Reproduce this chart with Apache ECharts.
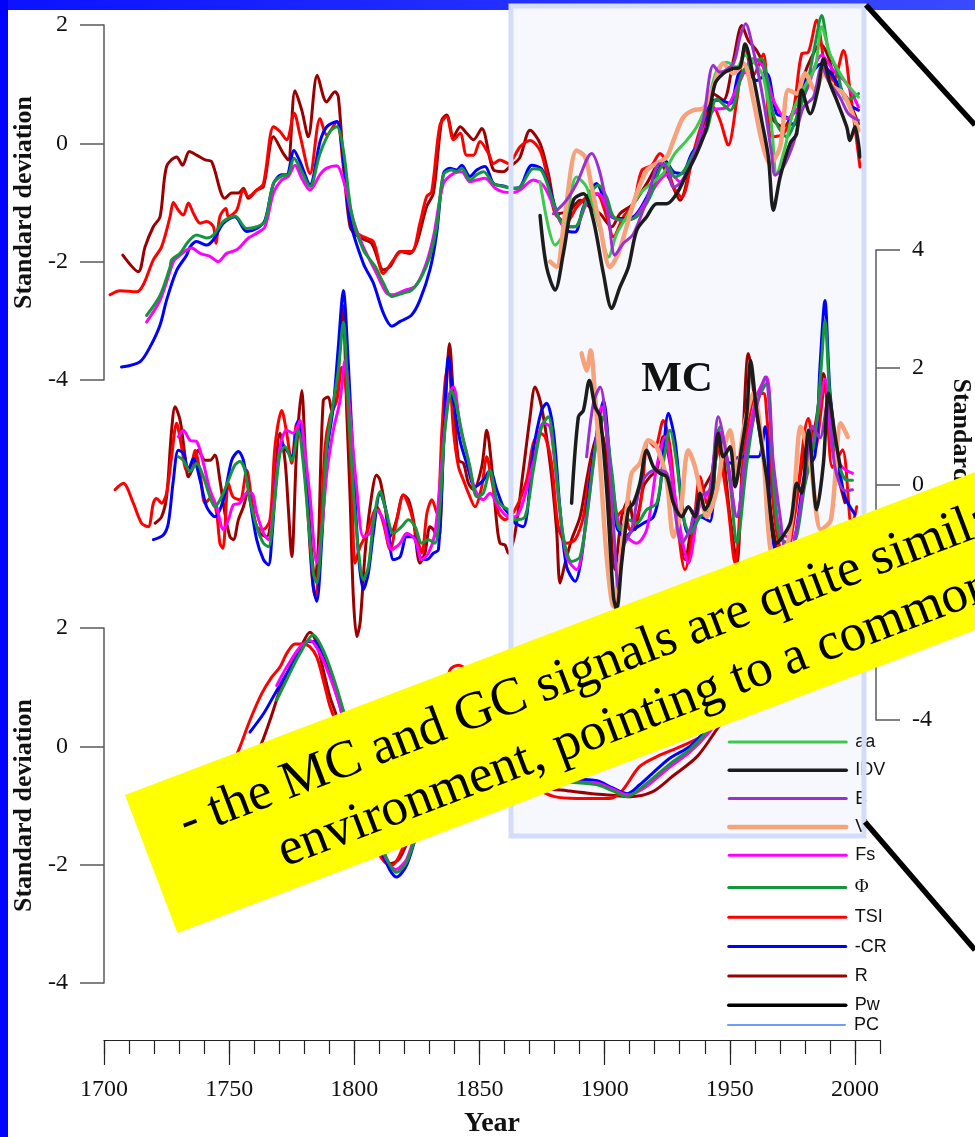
<!DOCTYPE html>
<html>
<head>
<meta charset="utf-8">
<script src="https://cdn.jsdelivr.net/npm/echarts@6/dist/echarts.min.js"></script>
<style>
html,body{margin:0;padding:0;background:#fff;}
#chart{width:975px;height:1137px;}
</style>
</head>
<body>
<div id="chart"></div>
<script>
// ---------- Data: [year, standardised value] ----------
// Upper panel
const topR = [[1707.5,-1.89],[1713.7,-2.17],[1716.4,-1.75],[1719.7,-1.41],[1722.4,-1.24],[1725,-0.39],[1729,-0.23],[1731.4,-0.37],[1734.1,-0.14],[1737,-0.2],[1740.4,-0.28],[1743,-0.31],[1748.3,-0.93],[1751,-0.84],[1753.7,-0.84],[1755.7,-0.76],[1757.7,-0.93],[1761,-0.79],[1763.7,-0.73],[1767.7,0.11],[1771.6,-0.17],[1773.6,-0.28],[1776.3,0.89],[1779,0.56],[1781.6,0.11],[1785.2,1.15],[1788.9,0.7],[1792.3,0.87],[1793.6,0.79],[1795.6,-0.28],[1798.3,-1.41],[1801.6,-1.58],[1806.9,-1.69],[1811.6,-2.14],[1814.3,-2.08],[1818.3,-1.83],[1822.3,-1.86],[1824.9,-1.69],[1828.9,-1.07],[1831.6,-0.84],[1834.9,0.39],[1836.9,0.48],[1839.6,0.11],[1842.3,0.28],[1844.9,0.17],[1847.6,0.06],[1850.9,0.25],[1855.6,-0.45],[1859.5,-0.48],[1862.2,-0.39],[1866,-0.25],[1870.2,0.22],[1874.2,0.0],[1877.5,-0.51],[1881.5,-1.19],[1886.2,-1.13],[1890.2,-0.96],[1894.2,-1.08],[1898.2,-1.19],[1902.8,-1.41],[1906.1,-1.19],[1911.5,-1.02],[1916.8,-0.68],[1922.1,-0.34],[1926.1,-0.62],[1930.1,-0.96],[1934.8,-0.29],[1939.4,0.28],[1943.4,0.84],[1947.4,0.73],[1951.4,1.4],[1954.8,1.99],[1957.4,1.74],[1960.7,1.57],[1963.4,1.32],[1966.7,0.44],[1971.4,0.28],[1975.4,0.56],[1979.4,1.12],[1982.7,1.46],[1986.1,1.68],[1989.4,1.46],[1992.7,0.95],[1996.7,0.78],[2001.4,0.33]];
const topTSI = [[1702.4,-2.56],[1706.4,-2.49],[1713,-2.51],[1715.7,-2.39],[1719.7,-1.97],[1723,-1.75],[1726.4,-1.24],[1727.7,-1.0],[1729.7,-1.13],[1731.7,-1.21],[1733.7,-1.01],[1735.7,-1.18],[1738.4,-1.35],[1741,-1.32],[1743.7,-1.41],[1744.7,-1.69],[1746.3,-1.24],[1748.7,-1.1],[1749.7,-1.24],[1753,-1.13],[1755.7,-0.79],[1757.7,-0.9],[1761,-0.79],[1763.7,-0.68],[1767.7,0.28],[1770.3,0.2],[1773,0.06],[1776,0.51],[1778.3,0.14],[1782.3,-0.51],[1786.3,0.42],[1789,0.14],[1793,0.37],[1795.6,-0.39],[1799.6,-1.46],[1803.6,-1.58],[1807.6,-1.66],[1811.6,-2.2],[1815.6,-1.97],[1818.9,-1.83],[1822.9,-1.83],[1826.2,-1.35],[1828.9,-0.9],[1830.9,-0.82],[1834.2,0.31],[1836.9,0.45],[1839.6,0.06],[1842.3,0.17],[1844.9,-0.2],[1847.6,-0.2],[1850.2,0.03],[1853.6,-0.17],[1855.6,-0.34],[1858.2,-0.28],[1861.5,-0.34],[1866.2,-0.06],[1870.2,0.05],[1874.2,-0.12],[1876.8,-0.51],[1880.2,-1.19],[1884.8,-1.33],[1888.8,-1.08],[1892.8,-0.91],[1896.8,-0.85],[1900.8,-1.24],[1903.5,-1.58],[1907.5,-1.24],[1911.5,-1.02],[1914.8,-0.46],[1918.8,-0.37],[1922.1,-0.17],[1924.8,-0.34],[1927.5,-0.74],[1930.8,-0.91],[1935.4,-0.17],[1939.4,0.39],[1943.4,0.61],[1946.1,0.39],[1949.4,-0.03],[1952.8,0.73],[1956.1,1.63],[1959.4,1.15],[1963.4,1.51],[1966.7,0.11],[1971.4,0.16],[1975.4,0.56],[1978.7,1.51],[1981.4,1.54],[1984.7,2.08],[1988.1,1.29],[1991.4,1.06],[1995.4,1.57],[1998,0.9],[2002,-0.4]];
const topCR = [[1707,-3.78],[1714.4,-3.69],[1718.4,-3.44],[1722.4,-3.07],[1725,-2.65],[1729,-2.15],[1733,-1.89],[1734.4,-1.75],[1737,-1.66],[1741,-1.72],[1743.7,-1.63],[1747.7,-1.35],[1752.3,-1.24],[1757,-1.49],[1761,-1.44],[1764.3,-1.3],[1767.7,-0.68],[1771,-0.53],[1773,-0.53],[1775.9,-0.12],[1778.3,-0.31],[1782.3,-0.7],[1786.3,0.03],[1789,0.28],[1793,0.37],[1795,-0.06],[1798.3,-1.3],[1803.6,-2.03],[1807.6,-2.36],[1811.6,-2.87],[1815,-3.09],[1818.3,-3.01],[1822.9,-2.9],[1826.2,-2.65],[1830.2,-2.14],[1832.9,-1.52],[1835.6,-0.51],[1838.2,-0.42],[1840.9,-0.45],[1842.9,-0.37],[1846.2,-0.56],[1848.9,-0.45],[1852.2,-0.39],[1855.6,-0.68],[1859.5,-0.72],[1863.5,-0.76],[1866.2,-0.74],[1870.9,-0.37],[1874.8,-0.43],[1878.2,-0.79],[1881.5,-1.24],[1884.8,-1.47],[1888.2,-1.5],[1891.5,-1.08],[1896.8,-0.68],[1899.5,-0.91],[1902.8,-1.24],[1906.1,-1.27],[1911.5,-1.24],[1916.8,-0.91],[1920.8,-0.51],[1924.1,-0.29],[1927.5,-0.48],[1930.8,-0.51],[1934.8,-0.17],[1939.4,0.11],[1943.4,0.73],[1946.1,0.73],[1950.1,0.67],[1954.1,1.2],[1956.7,1.2],[1960.7,1.06],[1964.7,1.18],[1968.7,0.5],[1972.7,0.44],[1975.4,0.3],[1979.4,1.01],[1983.4,1.23],[1986.7,1.35],[1990,1.2],[1994,0.95],[1997.4,0.67],[2001.4,0.56]];
const topFs = [[1717,-3.02],[1722.4,-2.65],[1727.7,-2.0],[1729,-1.94],[1735,-1.77],[1738.4,-1.86],[1742.3,-1.91],[1745.6,-2.0],[1749,-1.86],[1753,-1.8],[1757.7,-1.6],[1761,-1.52],[1764.3,-1.41],[1767.7,-0.84],[1771,-0.62],[1773.6,-0.56],[1776.3,-0.37],[1779,-0.59],[1782.3,-0.79],[1786.3,-0.53],[1789,-0.42],[1793,-0.38],[1795.6,-0.62],[1799.6,-1.3],[1803.6,-1.75],[1808.9,-2.2],[1812.9,-2.53],[1815.6,-2.56],[1820.3,-2.48],[1824.3,-2.42],[1828.3,-2.08],[1831.6,-1.58],[1835.6,-0.68],[1839.6,-0.51],[1842.9,-0.48],[1846.2,-0.65],[1848.9,-0.62],[1852.2,-0.59],[1856.3,-0.76],[1859.5,-0.82],[1863.5,-0.83],[1866.2,-0.79],[1871.5,-0.62],[1875.5,-0.71],[1879.5,-1.05],[1883.5,-1.39],[1888.2,-1.41],[1892.8,-1.02],[1897.5,-0.85],[1902.1,-1.19],[1906.1,-1.3],[1911.5,-1.27],[1916.8,-0.96],[1922.1,-0.62],[1926.1,-0.51],[1930.1,-0.65],[1934.1,-0.34],[1938.1,0.05],[1943.4,0.56],[1948.8,0.61],[1954.1,1.06],[1959.4,1.43],[1963.4,1.29],[1967.4,0.73],[1972.7,0.42],[1976.7,0.56],[1980.7,0.9],[1986.7,1.49],[1991.4,1.23],[1996.7,1.01],[2001.4,0.61]];
const topPhi = [[1717,-2.91],[1722.4,-2.57],[1726.4,-2.09],[1727,-1.97],[1730.4,-1.86],[1733.7,-1.66],[1737,-1.55],[1741,-1.6],[1743.7,-1.55],[1747.7,-1.32],[1752.3,-1.23],[1757,-1.44],[1761,-1.41],[1764.3,-1.32],[1767.7,-0.68],[1771,-0.55],[1773.6,-0.53],[1775.9,-0.25],[1779,-0.48],[1782.3,-0.73],[1786.3,-0.17],[1790.3,0.2],[1793,0.28],[1795.6,-0.11],[1798.9,-1.18],[1803.6,-1.8],[1808.3,-2.08],[1811.6,-2.36],[1815,-2.59],[1819.6,-2.53],[1822.9,-2.48],[1826.9,-2.25],[1830.2,-1.91],[1832.9,-1.41],[1835.6,-0.53],[1838.9,-0.45],[1840.9,-0.48],[1842.9,-0.42],[1846.2,-0.62],[1848.9,-0.53],[1851.6,-0.48],[1855.6,-0.68],[1859.5,-0.73],[1863.5,-0.76],[1866.2,-0.74],[1871.5,-0.43],[1874.8,-0.46],[1878.8,-0.91],[1882.2,-1.3],[1885.5,-1.41],[1888.2,-1.41],[1892.8,-0.96],[1897.5,-0.71],[1900.8,-0.91],[1903.5,-1.24],[1907.5,-1.3],[1912.8,-1.24],[1918.1,-0.91],[1922.1,-0.43],[1924.8,-0.34],[1928.1,-0.57],[1931.4,-0.48],[1936.1,-0.12],[1940.8,0.22],[1944.8,0.75],[1950.1,0.56],[1955.4,1.23],[1959.4,1.37],[1962.7,1.43],[1966.1,0.73],[1968.7,0.33],[1972.7,0.11],[1976.7,0.44],[1980.7,0.95],[1984.1,1.68],[1986.7,2.16],[1989.4,1.57],[1992.7,1.23],[1996.7,0.73],[2001.4,0.84]];
const topAA = [[1874.2,-0.65],[1877.5,-1.41],[1880.2,-1.72],[1883.5,-1.53],[1888.8,-0.57],[1892.8,-0.74],[1898.2,-1.47],[1901.5,-1.92],[1904.8,-1.53],[1908.8,-1.24],[1914.1,-0.85],[1919.5,-0.65],[1923.4,-0.51],[1928.1,-0.17],[1932.8,0.05],[1936.8,0.28],[1941.4,0.73],[1944.8,1.23],[1948.8,1.37],[1952.8,1.29],[1956.1,1.49],[1960.1,1.35],[1963.4,1.12],[1966.7,0.28],[1968.7,-0.51],[1972.1,-0.06],[1975.4,0.56],[1979.4,0.92],[1984.1,1.29],[1986.7,1.97],[1990,1.51],[1993.4,1.23],[1996.7,1.01],[2001.4,0.78]];
const topV = [[1878.2,-2.0],[1880.8,-2.09],[1884.2,-1.19],[1888.8,-0.12],[1892.2,-0.23],[1894.8,-0.74],[1898.2,-1.41],[1902.1,-2.09],[1905.5,-1.86],[1909.5,-1.3],[1912.8,-0.85],[1916.8,-0.46],[1920.8,-0.34],[1924.8,-0.23],[1927.5,0.05],[1931.4,0.44],[1935.4,0.56],[1939.4,0.59],[1943.4,0.95],[1947.4,1.35],[1951.4,1.18],[1955.4,1.35],[1959.4,0.73],[1962.7,0.05],[1966.1,-0.34],[1970.1,-0.06],[1973.4,0.9],[1976.7,0.84],[1980.1,1.18],[1984.1,0.9],[1987.4,1.18],[1991.4,0.95],[1995.4,0.84],[2001.4,0.22]];
const topB = [[1879.5,-1.19],[1884.8,-0.96],[1888.8,-0.68],[1894.8,-0.17],[1898.2,-0.51],[1901.5,-1.24],[1904.1,-1.89],[1907.5,-1.69],[1911.5,-1.53],[1916.8,-0.96],[1922.1,-0.34],[1924.8,-0.4],[1927.5,-0.74],[1931.4,-0.62],[1935.4,-0.23],[1939.4,0.39],[1943.4,1.32],[1946.1,1.2],[1951.4,1.35],[1954.1,1.8],[1956.3,2.02],[1959.4,1.57],[1963.4,0.73],[1966.7,-0.17],[1968.1,-0.54],[1971.4,-0.4],[1975.4,0],[1979.4,0.61],[1983.4,0.78],[1986.7,1.29],[1990,1.01],[1994,0.78],[1997.4,0.5],[2001.4,0.39]];
const topIDV = [[1874.2,-1.22],[1876.8,-2.09],[1880.2,-2.48],[1883.5,-1.86],[1887.5,-0.96],[1891.5,-0.85],[1895.5,-1.3],[1899.5,-2.2],[1902.8,-2.79],[1906.1,-2.43],[1909.5,-2.09],[1912.8,-1.47],[1916.8,-1.24],[1920.8,-1.02],[1924.8,-1.02],[1928.8,-0.85],[1932.8,-0.51],[1936.8,-0.17],[1940.8,0.28],[1944.1,1.01],[1947.4,1.18],[1950.8,1.26],[1954.1,1.29],[1956.1,1.68],[1959.4,1.12],[1962.7,0.39],[1965.4,-0.23],[1967.4,-1.13],[1970.1,-0.57],[1974.1,0],[1976.7,0.16],[1978.7,0.9],[1982.1,0.5],[1985.4,0.95],[1987.4,1.43],[1990,1.01],[1992.7,0.73],[1996.7,0.28],[1998,0.05],[2000,0.28],[2002,-0.23]];

// Middle panel
const midR = [[1720.4,-0.65],[1723,-0.54],[1725,-0.2],[1727,0.93],[1728.4,1.33],[1730.4,1.1],[1732.4,0.48],[1733.7,0.14],[1735.7,0.31],[1737.7,0.59],[1740.4,0.42],[1742.4,0.42],[1744.3,0.51],[1746.3,0.08],[1748.3,-0.48],[1750.3,-0.88],[1751.7,-0.93],[1753.7,-0.59],[1755.7,-0.37],[1757.7,-0.08],[1759.7,-0.54],[1762.3,-0.82],[1765,-0.88],[1767.7,-0.2],[1770.3,0.88],[1772.3,0.42],[1773.6,-0.37],[1775,-1.22],[1777,0.65],[1779,1.61],[1780.3,0.65],[1782.3,-0.76],[1784.3,-1.61],[1785.6,-1.05],[1787.6,1.44],[1789.6,1.5],[1790.9,1.27],[1793.6,1.95],[1795.4,3.06],[1797,1.22],[1798.3,-0.2],[1799.6,-1.9],[1801,-2.58],[1802.3,-2.35],[1804.3,-1.16],[1806.3,-0.37],[1808.9,0.17],[1810.3,0.08],[1812.3,-0.37],[1814.3,-0.88],[1816.9,-0.59],[1819.6,-0.17],[1821.6,-0.25],[1823.6,-0.59],[1826.2,-1.33],[1828.2,-1.16],[1830.2,-0.71],[1831.6,-0.76],[1833.6,-0.93],[1835.6,0.65],[1836.9,1.78],[1838,2.41],[1839.6,1.5],[1841.6,0.42],[1843.6,0.37],[1845.6,0.03],[1847.6,-0.08],[1850.9,0.31],[1852.9,0.93],[1854.9,0.31],[1856.9,-0.65],[1858.2,-0.99],[1860.2,-1.02],[1861.5,-1.16],[1864.2,-0.82],[1867.5,0.25],[1870.2,1.16],[1872.2,1.67],[1874.8,1.33],[1878.2,0.37],[1880.8,-0.76],[1882.2,-1.67],[1884.2,-1.33],[1886.8,-0.93],[1890.2,-0.54],[1892.8,0.08],[1895.5,0.65],[1898.2,0.93],[1900.8,0.42],[1904.1,-1.44],[1906.8,-0.54],[1909.5,-0.25],[1912.1,-0.76],[1915.5,-0.03],[1918.1,0.14],[1920.8,0.25],[1923.4,0.82],[1926.1,0.37],[1928.8,-0.54],[1932.1,-1.27],[1935.4,-0.54],[1939.4,-0.08],[1943.4,0.25],[1946.1,0.76],[1950.1,-0.54],[1952.8,-1.33],[1955.4,0.93],[1957.4,2.24],[1960.1,1.39],[1963.4,0.48],[1967.4,-0.76],[1971,-1.4],[1975,-0.7],[1980,0.6],[1984,1.0],[1987.4,1.9],[1990,1.0],[1993,0.2],[1996,-0.3]];
const midTSI = [[1704.4,-0.08],[1707.7,0.03],[1711.7,-0.31],[1715,-0.65],[1717.7,-0.71],[1719.7,-0.31],[1721,-0.23],[1723,-0.31],[1725,-0.14],[1727,0.48],[1729,1.05],[1731,0.65],[1733,0.25],[1735,0.37],[1736.4,0.59],[1738.4,0.2],[1740.4,-0.31],[1743,-0.2],[1745,-0.48],[1746.3,-0.99],[1747.5,-1.08],[1749.7,0.03],[1751.5,-0.2],[1754.3,-0.25],[1757,0.25],[1759,-0.25],[1761,-0.71],[1763.5,-0.76],[1766.3,-0.59],[1768.3,0.65],[1771,1.27],[1773,0.88],[1775,0.37],[1777,1.05],[1779,0.76],[1781,-0.2],[1783,-1.5],[1784.3,-1.9],[1786.3,-1.05],[1788.3,0.65],[1790.3,1.16],[1793,1.44],[1795,2.0],[1797,1.5],[1799,-0.03],[1800.3,-1.33],[1802.3,-1.05],[1804.3,-0.88],[1806.3,-0.65],[1809,-0.37],[1811.6,-0.65],[1814.3,-1.1],[1817,-0.59],[1819.6,-0.17],[1822.3,-0.42],[1825,-0.88],[1827,-1.16],[1829,-0.48],[1831,-0.25],[1833,-0.48],[1835,0.93],[1836.3,1.78],[1837.6,2.07],[1839.6,0.93],[1841.6,0.31],[1843.6,0.08],[1845.6,-0.14],[1848.2,-0.37],[1850.9,-0.03],[1852.9,0.48],[1854.9,0.08],[1857.6,-0.48],[1860.2,-0.59],[1864.2,-0.42],[1868.8,0.08],[1871.5,0.71],[1874.2,0.88],[1876.2,0.82],[1878.8,0.37],[1881.5,-0.71],[1884.8,-0.99],[1888.2,-0.93],[1891.5,-0.54],[1894.2,0.25],[1896.8,0.76],[1899.5,1.16],[1902.2,0.2],[1904.8,-0.54],[1907.5,-0.42],[1910.1,-0.76],[1914.1,-0.37],[1917.5,0.76],[1920.1,0.65],[1923.4,1.1],[1926.1,0.65],[1928.8,-0.54],[1932.1,-1.44],[1935.4,-0.76],[1938.1,0.14],[1940.8,-0.31],[1944.8,0.65],[1948.8,-0.2],[1952.1,-1.33],[1955.4,0.37],[1959.4,1.5],[1963.4,1.56],[1964.7,1.22],[1968,-0.6],[1972,-1.3],[1976,-0.5],[1981.4,1.13],[1984,0.6],[1988,1.7],[1991,0.3],[1995,0.6],[1998.7,-0.71],[2000.7,-0.37]];
const midCR = [[1719.7,-0.93],[1723.7,-0.85],[1725.7,-0.65],[1727.7,0.08],[1729.7,0.59],[1731.7,0.54],[1733.7,0.25],[1735.7,0.45],[1738.4,0.08],[1741,-0.37],[1744.3,-0.54],[1747.7,-0.25],[1751,0.42],[1753.7,0.57],[1755.7,0.42],[1758.3,-0.25],[1761,-0.93],[1763.7,-1.27],[1765.7,-1.36],[1767,-0.93],[1769,0.2],[1771,0.71],[1773,0.59],[1775,0.48],[1777.6,1.1],[1779.6,0.65],[1781.6,-0.48],[1783.6,-1.73],[1785,-1.98],[1787,-0.93],[1789,0.54],[1791.6,1.33],[1793.6,2.35],[1795.6,3.31],[1797.6,2.07],[1799.6,0.37],[1801.6,-1.16],[1803.6,-1.78],[1805.6,-1.5],[1807.6,-0.82],[1810.3,-0.14],[1812.9,-0.48],[1815.6,-1.27],[1818.3,-1.22],[1820.9,-0.88],[1823.6,-0.88],[1826.2,-1.22],[1828.9,-1.27],[1831.6,-1.16],[1833.6,-1.1],[1835.6,0.65],[1837.6,2.18],[1839.6,1.44],[1842.2,0.76],[1844.9,0.37],[1848.2,-0.03],[1851.5,0.08],[1854.2,0.25],[1856.9,-0.08],[1859.5,-0.37],[1861.5,-0.48],[1864.2,-0.65],[1867.5,-0.71],[1871.5,0.59],[1874.8,1.27],[1876.8,1.39],[1879.5,0.93],[1882.2,-0.42],[1884.8,-1.39],[1888.2,-1.64],[1890.8,-1.22],[1894.2,0.08],[1897.5,1.05],[1899.5,1.44],[1902.2,0.37],[1904.8,-0.71],[1908.1,-0.88],[1911.5,-0.76],[1915.5,-0.65],[1919.5,-0.54],[1922.1,-0.08],[1925.5,1.22],[1928.1,0.76],[1930.8,-0.31],[1933.4,-0.82],[1938.1,-0.54],[1942.1,-0.62],[1945.4,0.93],[1950.1,0.37],[1954.1,0.48],[1958.1,0.48],[1961.4,0.48],[1964.1,0.99],[1966.7,-0.76],[1970,-1.3],[1975,-1.1],[1980,0.2],[1984,0.5],[1986,2.0],[1988,3.14],[1990,1.6],[1993,0.5],[1996,-0.2],[2000,-0.5]];
const midFs = [[1729.7,0.82],[1731.7,0.93],[1734.4,0.76],[1737,0.74],[1739.7,0.37],[1742.3,-0.08],[1745,-0.37],[1747.7,-0.76],[1749.7,-0.59],[1751.7,-0.34],[1754.3,-0.31],[1757,-0.14],[1759,-0.14],[1761,-0.48],[1763.7,-0.82],[1765.7,-0.93],[1767.7,-0.37],[1770.3,0.65],[1773,0.93],[1775.6,0.88],[1778.3,1.1],[1780.3,0.54],[1782.3,-0.2],[1785,-1.33],[1787,-0.76],[1789,0.2],[1791.6,0.93],[1794.3,1.44],[1796.3,2.12],[1798.3,1.22],[1801,-0.08],[1803.6,-0.88],[1806.3,-0.82],[1808.9,-0.42],[1811.6,-0.59],[1815,-1.1],[1818.3,-0.99],[1820.9,-0.82],[1824.3,-0.93],[1826.9,-1.27],[1829.6,-1.16],[1832.2,-0.82],[1834.9,0.37],[1837.6,1.5],[1839.6,1.67],[1842.3,0.99],[1844.9,0.54],[1848.2,-0.08],[1851.5,-0.25],[1854.2,-0.14],[1857.6,-0.37],[1861.5,-0.54],[1864.2,-0.54],[1871.5,0.37],[1875.5,1.05],[1878.2,0.99],[1881.5,-0.2],[1884.8,-1.22],[1888.8,-1.44],[1892.2,-0.76],[1895.5,0.37],[1898.8,1.33],[1902.2,0.37],[1905.5,-0.65],[1908.8,-0.88],[1912.8,-0.99],[1916.8,-0.76],[1920.8,0.31],[1924.1,0.82],[1927.5,-0.03],[1930.8,-0.88],[1933.4,-1.33],[1938.1,-0.31],[1942.1,-0.08],[1945.4,0.93],[1948.8,0.48],[1952.8,-0.54],[1956.8,0.65],[1960.7,1.5],[1964.7,1.84],[1967.4,0.25],[1970,-0.8],[1975,-0.9],[1980,0.1],[1984,0.9],[1988,1.8],[1991,0.6],[1995,0.3],[1999,0.2]];
const midPhi = [[1729.7,0.48],[1731.7,0.42],[1734.4,0.23],[1737,0.37],[1739.7,0.14],[1742.3,-0.2],[1744.3,-0.37],[1747,-0.2],[1749.7,0.08],[1752.3,0.34],[1754.3,0.4],[1756.3,0.25],[1758.3,-0.25],[1761,-0.71],[1763.7,-0.99],[1765.7,-1.05],[1767.7,-0.48],[1770.3,0.54],[1772.3,0.65],[1775,0.42],[1777.6,0.93],[1779.6,0.37],[1781.6,-0.59],[1783.6,-1.5],[1785,-1.67],[1787,-0.76],[1789,0.65],[1791.6,1.39],[1793.6,1.95],[1795.6,2.77],[1797.6,1.33],[1799.6,-0.08],[1801.6,-1.1],[1803.6,-1.61],[1805.6,-1.39],[1807.6,-0.65],[1810.3,-0.11],[1812.9,-0.48],[1815.6,-0.82],[1818.9,-0.71],[1821.6,-0.59],[1824.3,-0.71],[1826.9,-0.99],[1829.6,-0.93],[1832.2,-0.99],[1834.2,-0.37],[1836.2,0.93],[1838.9,1.61],[1840.9,1.33],[1843.6,0.76],[1846.2,0.31],[1848.9,-0.2],[1851.5,-0.14],[1854.2,0.25],[1856.9,-0.25],[1859.5,-0.37],[1861.5,-0.42],[1864.2,-0.59],[1868.2,-0.54],[1871.5,0.25],[1874.8,0.99],[1877.5,1.16],[1880.2,0.37],[1883.5,-0.88],[1886.8,-1.3],[1890.2,-1.22],[1893.5,-0.31],[1896.8,0.76],[1899.5,1.16],[1902.8,0.25],[1906.1,-0.76],[1909.5,-0.59],[1912.8,-0.65],[1916.8,-0.42],[1920.8,-0.31],[1923.4,0.37],[1926.1,0.93],[1928.8,0.37],[1931.4,-0.54],[1934.1,-0.82],[1938.1,-0.54],[1942.1,-0.42],[1946.1,0.99],[1950.1,0.03],[1952.8,-0.99],[1956.8,0.37],[1960.7,1.39],[1964.7,1.73],[1967.4,0.08],[1970,-0.9],[1975,-1.0],[1980,0.0],[1984,0.8],[1986.5,2.0],[1988,2.8],[1990,1.5],[1993,0.5],[1996,0.1],[1999,0.08]];
const midV = [[1890.8,2.24],[1892.8,1.95],[1894.4,2.29],[1896.2,1.5],[1898.2,0.37],[1900.8,-1.22],[1903.5,-2.07],[1906.1,-1.33],[1908.8,-0.42],[1910.8,0.2],[1914.1,0.37],[1917.5,0.76],[1920.8,0.65],[1924.8,0.08],[1927.5,-0.88],[1930.1,-0.54],[1933.4,0.59],[1936.1,0.31],[1938.1,-0.08],[1940.8,-0.54],[1944.8,-0.08],[1947.4,0.59],[1950.1,0.93],[1952.8,0.14],[1955.4,0.93],[1959.4,1.56],[1963.4,0.48],[1966.1,-1.05],[1970,-1.5],[1975,-0.5],[1978.4,0.99],[1982.4,0.31],[1986.4,-0.76],[1990.4,-0.59],[1994.4,1.05],[1997.1,0.82]];
const midB = [[1892.8,0.48],[1895.5,1.39],[1898.2,1.67],[1900.8,0.93],[1903.5,-0.65],[1905.5,-1.78],[1907.5,-1.05],[1910.8,-0.76],[1914.1,-0.03],[1917.5,0.2],[1920.8,0.25],[1924.8,0.2],[1927.5,-0.31],[1930.8,-0.99],[1934.1,-0.76],[1938.1,-0.2],[1942.1,-0.08],[1945.4,1.16],[1948.8,0.48],[1952.8,-0.54],[1956.8,0.65],[1960.7,1.33],[1964.1,1.84],[1967.4,0.37],[1970,-0.5],[1973,-1.3],[1976,-0.9],[1980,0.1],[1983,1.0],[1986,0.8],[1989,1.4],[1992,0.3],[1996,-0.1],[1999,-0.08]];
const midIDV = [[1886.8,-0.31],[1889.5,1.16],[1891.5,1.27],[1893.9,1.78],[1896.2,1.33],[1898.2,1.16],[1900.8,-0.08],[1903.5,-1.9],[1904.8,-2.12],[1906.8,-1.33],[1909.5,-0.42],[1911.5,-0.31],[1914.1,0.03],[1916.8,0.59],[1919.5,0.31],[1922.1,0.2],[1924.8,0.14],[1927.5,-0.31],[1930.8,-0.54],[1933.4,-0.37],[1936.1,-0.54],[1938.1,-0.14],[1940.1,-0.42],[1942.8,-0.14],[1945.4,0.88],[1947.4,0.48],[1950.1,0.65],[1952.1,-0.03],[1954.8,0.65],[1956.8,1.22],[1958.3,2.12],[1960.7,1.27],[1964.7,0.14],[1968.7,-0.99],[1974.1,-0.65],[1976.8,0.03],[1978.7,-0.14],[1981.4,0.93],[1984.7,-0.42],[1987.4,0.37],[1989.4,1.56],[1992.1,0.82],[1994.1,0.31]];

// Lower panel
const botR = [[1755,-0.6],[1758,-0.3],[1762.3,-0.01],[1766.3,0.44],[1770.3,0.95],[1774.3,1.34],[1778.3,1.65],[1782.3,1.93],[1785,1.74],[1787.6,1.29],[1790.3,0.83],[1793,0.5],[1798,-0.3],[1804,-1.1],[1810,-1.75],[1814.5,-1.98],[1818,-1.9],[1823,-1.4],[1829,-0.5],[1835,0.4],[1840,1.05],[1843,1.2],[1847,1.0],[1853,0.5],[1860,-0.1],[1868,-0.5],[1876,-0.7],[1885,-0.75],[1895,-0.8],[1904,-0.83],[1910,-0.85],[1919,-0.77],[1927,-0.51],[1937,-0.17],[1945,0.3],[1955,0.9]];
const botTSI = [[1745,-0.9],[1750,-0.45],[1754.3,-0.01],[1758.3,0.44],[1763,0.89],[1767,1.17],[1770.3,1.34],[1773,1.57],[1776.3,1.73],[1779.6,1.73],[1782.3,1.68],[1785,1.51],[1787.6,1.12],[1790.3,0.67],[1792.3,0.44],[1797,-0.4],[1802,-1.1],[1807,-1.6],[1812,-1.95],[1815,-2.01],[1819,-1.75],[1824,-1.1],[1829,-0.3],[1834,0.44],[1838.2,1.29],[1841.6,1.37],[1844.9,1.29],[1850,0.9],[1857,0.3],[1865,-0.3],[1873,-0.7],[1880,-0.85],[1889,-0.88],[1896,-0.88],[1902,-0.88],[1907,-0.75],[1914,-0.34],[1922,-0.15],[1930.5,0.0],[1940.5,0.22],[1948,0.6],[1955,1.0]];
const botCR = [[1758.3,0.24],[1763.7,0.55],[1768.3,0.89],[1773,1.23],[1777,1.51],[1781,1.77],[1784.3,1.77],[1787.6,1.51],[1791,1.12],[1794.3,0.67],[1799,-0.2],[1805,-1.1],[1811,-1.8],[1816.9,-2.21],[1821,-2.0],[1826,-1.3],[1831,-0.5],[1836,0.3],[1841,0.95],[1845,1.1],[1850,0.8],[1857,0.2],[1865,-0.3],[1875,-0.55],[1885,-0.55],[1897,-0.58],[1903,-0.7],[1909,-0.8],[1914,-0.65],[1919,-0.46],[1926,-0.2],[1934,0.0],[1942,0.35],[1950,0.8],[1955,1.0]];
const botFs = [[1769,1.03],[1773,1.34],[1778.3,1.68],[1782.3,1.79],[1786.3,1.57],[1790.3,1.17],[1794.3,0.67],[1799,-0.1],[1805,-1.0],[1811,-1.75],[1816.5,-2.08],[1821,-1.9],[1826,-1.2],[1831,-0.4],[1836,0.4],[1841,1.0],[1844,1.25],[1848,1.1],[1855,0.4],[1863,-0.2],[1873,-0.55],[1885,-0.6],[1897,-0.62],[1903,-0.72],[1909,-0.82],[1914,-0.75],[1919,-0.6],[1926,-0.35],[1934,-0.1],[1942,0.25],[1950,0.7],[1955,0.9]];
const botPhi = [[1769,0.78],[1773,1.13],[1778.3,1.57],[1783.6,1.88],[1787.6,1.62],[1791.6,1.17],[1795.6,0.61],[1800,-0.1],[1806,-1.0],[1812,-1.8],[1816.9,-2.13],[1821,-1.95],[1826,-1.3],[1831,-0.5],[1836,0.3],[1841,0.9],[1845,1.05],[1850,0.8],[1857,0.2],[1865,-0.3],[1875,-0.55],[1885,-0.6],[1897,-0.65],[1903,-0.75],[1909,-0.85],[1914,-0.72],[1919,-0.55],[1926,-0.3],[1934,-0.05],[1942,0.3],[1950,0.75],[1955,0.95]];

// Axis ticks and legend groups
const yearTicks = [1700, 1750, 1800, 1850, 1900, 1950, 2000];
const legendA = ['aa', 'IDV', 'B', 'V', 'Fs'];
const legendB = ['Φ', 'TSI', '-CR', 'R', 'Pw'];
const legendC = ['PC'];

// ---------- Styles ----------
const STYLE = {
  'aa':  {color: '#3ec94b', width: 3},
  'IDV': {color: '#1c1c1c', width: 3.5},
  'B':   {color: '#9b30d0', width: 3},
  'V':   {color: '#f6a37c', width: 4.5},
  'Fs':  {color: '#ff00ff', width: 3},
  'Φ':   {color: '#13963c', width: 3},
  'TSI': {color: '#ff0000', width: 3},
  '-CR': {color: '#0000ff', width: 3},
  'R':   {color: '#9a0000', width: 3},
  'Pw':  {color: '#000000', width: 3.5},
  'PC':  {color: '#6c9dff', width: 2}
};

function line(name, panel, data) {
  const s = STYLE[name];
  return {
    type: 'line', name: name, data: data,
    xAxisIndex: panel, yAxisIndex: panel,
    symbol: 'none', showSymbol: false, smooth: 0.3, clip: false,
    lineStyle: {color: s.color, width: s.width, cap: 'round', join: 'round'},
    itemStyle: {color: s.color},
    emphasis: {disabled: true}, silent: true
  };
}

const series = [
  line('R', 0, topR), line('TSI', 0, topTSI), line('-CR', 0, topCR), line('Fs', 0, topFs), line('Φ', 0, topPhi),
  line('aa', 0, topAA), line('V', 0, topV), line('B', 0, topB), line('IDV', 0, topIDV),
  line('R', 1, midR), line('TSI', 1, midTSI), line('-CR', 1, midCR), line('Fs', 1, midFs), line('Φ', 1, midPhi),
  line('V', 1, midV), line('B', 1, midB), line('IDV', 1, midIDV),
  line('R', 2, botR), line('TSI', 2, botTSI), line('-CR', 2, botCR), line('Fs', 2, botFs), line('Φ', 2, botPhi),
  line('Pw', 2, []), line('PC', 2, [])
];

const SERIF = '"Liberation Serif", "Times New Roman", serif';
const SANS = '"Liberation Sans", Arial, sans-serif';
const AXIS_GREY = '#5a5a5a';

function valueAxis(grid, pos, min, max, offset, nameRotate, nameGap) {
  return {
    type: 'value', gridIndex: grid, position: pos, offset: offset,
    min: min, max: max, interval: 2,
    axisLine: {show: true, onZero: false, lineStyle: {color: AXIS_GREY, width: 1.5}},
    axisTick: {show: true, inside: false, length: 24, lineStyle: {color: AXIS_GREY, width: 1.5}},
    splitLine: {show: false},
    axisLabel: {margin: 36, fontFamily: SERIF, fontSize: 24, color: '#111'},
    name: 'Standard deviation', nameLocation: 'middle', nameRotate: nameRotate, nameGap: nameGap,
    nameTextStyle: {fontFamily: SERIF, fontWeight: 'bold', fontSize: 26, color: '#111'}
  };
}

function hiddenX(grid) {
  return {type: 'value', gridIndex: grid, min: 1700, max: 2010, show: false};
}

function legend(names, top, gap) {
  return {
    data: names, orient: 'vertical', left: 727, top: top, padding: 0,
    itemWidth: 117, itemHeight: 14, itemGap: gap, selectedMode: false,
    lineStyle: {width: 'inherit', cap: 'round'},
    itemStyle: {opacity: 0, borderWidth: 0},
    formatter: function (n) { return n === 'Φ' ? '{phi|Φ}' : n; },
    textStyle: {
      fontFamily: SANS, fontSize: 18, color: '#111', lineHeight: 18, padding: [0, 0, 0, 4],
      rich: {phi: {fontFamily: SERIF, fontSize: 19, color: '#111'}}
    }
  };
}

const chart = echarts.init(document.getElementById('chart'), null, {renderer: 'canvas'});

const bannerAngle = 20.8 * Math.PI / 180;

chart.setOption({
  animation: false,
  backgroundColor: '#ffffff',
  grid: [
    {left: 104, width: 776, top: 25, height: 355, outerBoundsMode: 'none', containLabel: false},
    {left: 104, width: 776, top: 250, height: 470, outerBoundsMode: 'none', containLabel: false},
    {left: 104, width: 776, top: 628, height: 355, outerBoundsMode: 'none', containLabel: false}
  ],
  xAxis: [
    hiddenX(0), hiddenX(1),
    {
      type: 'value', gridIndex: 2, position: 'bottom', offset: 57,
      min: 1700, max: 2010, interval: 10,
      axisLine: {show: true, onZero: false, lineStyle: {color: '#222', width: 1.2}},
      axisTick: {show: true, length: 14, lineStyle: {color: '#222', width: 1.2}},
      axisLabel: {show: false}, splitLine: {show: false}
    },
    {
      type: 'value', gridIndex: 2, position: 'bottom', offset: 57,
      min: 1700, max: 2010, interval: 50,
      axisLine: {show: false, onZero: false},
      axisTick: {show: true, length: 25, customValues: yearTicks, lineStyle: {color: '#222', width: 1.2}},
      axisLabel: {show: true, customValues: yearTicks, margin: 38, fontFamily: SERIF, fontSize: 24, color: '#111',
        formatter: function (v) { return String(v); }},
      splitLine: {show: false},
      name: 'Year', nameLocation: 'middle', nameGap: 70,
      nameTextStyle: {fontFamily: SERIF, fontWeight: 'bold', fontSize: 28, color: '#111'}
    }
  ],
  yAxis: [
    valueAxis(0, 'left', -4, 2, 0, 90, 65),
    valueAxis(1, 'right', -4, 4, -4, -90, 72),
    valueAxis(2, 'left', -4, 2, 0, 90, 65)
  ],
  legend: [legend(legendA, 733, 10.3), legend(legendB, 878, 11.3), legend(legendC, 1016, 10)],
  series: series,
  graphic: [
    // slide frame
    {type: 'rect', shape: {x: 0, y: 0, width: 975, height: 10}, z: -5, silent: true,
      style: {fill: new echarts.graphic.LinearGradient(0, 0, 1, 0, [{offset: 0, color: '#0a12ff'}, {offset: 1, color: '#3a4aff'}])}},
    {type: 'rect', shape: {x: 0, y: 0, width: 8, height: 1137}, z: 60, silent: true, style: {fill: '#0000ff'}},
    // MC interval box
    {type: 'rect', shape: {x: 509, y: 4, width: 357, height: 834}, z: -2, silent: true, style: {fill: '#f6f8fe'}},
    {type: 'rect', shape: {x: 511, y: 6, width: 353, height: 830}, z: 40, silent: true,
      style: {fill: 'none', stroke: '#d3ddf9', lineWidth: 5}},
    {type: 'text', z: 10, silent: true,
      style: {text: 'MC', x: 677, y: 380, fill: '#111', font: 'bold 43px "Liberation Serif"', align: 'center', verticalAlign: 'middle', textAlign: 'center', textVerticalAlign: 'middle'}},
    // zoom connector lines
    {type: 'line', z: 45, silent: true, shape: {x1: 866, y1: 5, x2: 975, y2: 125}, style: {stroke: '#000', lineWidth: 5.5}},
    {type: 'line', z: 45, silent: true, shape: {x1: 865, y1: 822, x2: 975, y2: 950}, style: {stroke: '#000', lineWidth: 5.5}},
    // highlighted note
    {type: 'group', x: 125, y: 795, rotation: bannerAngle, z: 50, silent: true, children: [
      {type: 'rect', z: 50, shape: {x: 0, y: 0, width: 1200, height: 147.5}, style: {fill: '#ffff00'}},
      {type: 'text', z: 51, style: {text: '- the MC and GC signals are quite similar', x: 42, y: 48, fill: '#000',
        font: '53px "Liberation Serif"', align: 'left', verticalAlign: 'middle', textAlign: 'left', textVerticalAlign: 'middle'}},
      {type: 'text', z: 51, style: {text: 'environment, pointing to a common', x: 124, y: 110, fill: '#000',
        font: '53px "Liberation Serif"', align: 'left', verticalAlign: 'middle', textAlign: 'left', textVerticalAlign: 'middle'}}
    ]}
  ]
});
</script>
</body>
</html>
